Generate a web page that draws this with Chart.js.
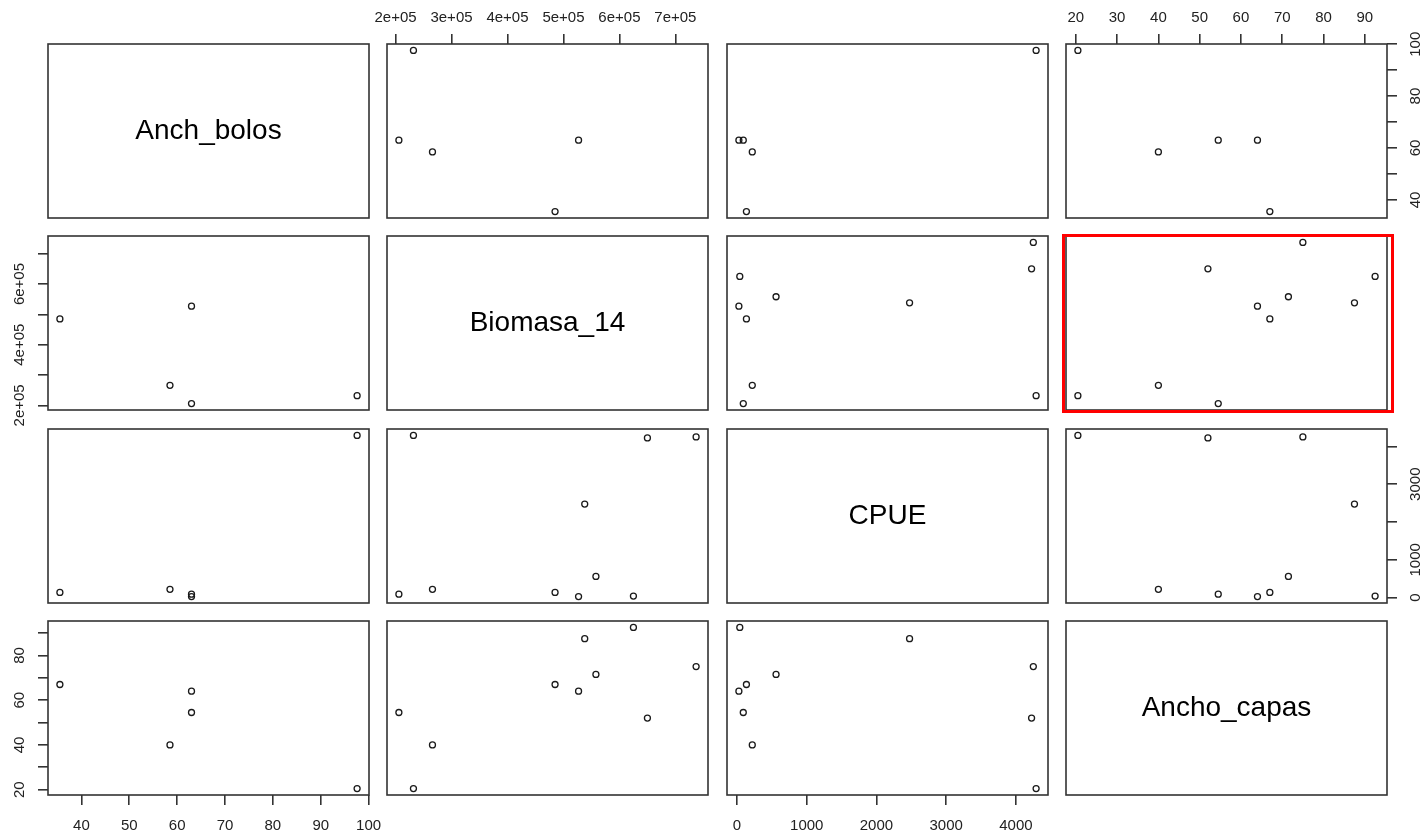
<!DOCTYPE html>
<html>
<head>
<meta charset="utf-8">
<title>Matriz de dispersión</title>
<script src="https://cdn.jsdelivr.net/npm/chart.js@4.4.1/dist/chart.umd.min.js"></script>
<style>
  html, body { margin: 0; padding: 0; background: #ffffff; }
  body { position: relative; width: 1426px; height: 837px; overflow: hidden; }
  canvas { position: absolute; }
  #resaltado {
    position: absolute; left: 1062px; top: 234px; width: 332px; height: 179px;
    border: 3px solid #ff0000; box-sizing: border-box; pointer-events: none;
  }
</style>
</head>
<body>
<div id="resaltado"></div>
<script>
// Variables of the matrix, one observation per index (null = missing)
const variables   = ['Anch_bolos', 'Biomasa_14', 'CPUE', 'Ancho_capas'];
const anchBolos   = [97.6, 58.5, null, 63, 63, 35.5, null, null, null, null];
const biomasa14   = [232000, 266000, 650000, 206000, 527000, 485000, 558000, 737000, 538000, 625000];
const cpue        = [4290, 219, 4225, 90, 27, 135, 560, 4250, 2475, 40];
const anchoCapas  = [20.5, 40, 52, 54.5, 64, 67, 71.5, 75, 87.5, 92.5];

// Tick positions of each variable
const anchTicks   = [40, 50, 60, 70, 80, 90, 100];
const bioTicks    = [200000, 300000, 400000, 500000, 600000, 700000];
const cpueTicks   = [0, 1000, 2000, 3000, 4000];
const capasTicks  = [20, 30, 40, 50, 60, 70, 80, 90];

// Tick labels: horizontal axes (x) and vertical axes (y, where overlapping labels are dropped)
const anchXLabels  = ['40', '50', '60', '70', '80', '90', '100'];
const anchYLabels  = ['40', '', '60', '', '80', '', '100'];
const bioXLabels   = ['2e+05', '3e+05', '4e+05', '5e+05', '6e+05', '7e+05'];
const bioYLabels   = ['2e+05', '', '4e+05', '', '6e+05', ''];
const cpueXLabels  = ['0', '1000', '2000', '3000', '4000'];
const cpueYLabels  = ['0', '1000', '', '3000', ''];
const capasXLabels = ['20', '30', '40', '50', '60', '70', '80', '90'];
const capasYLabels = ['20', '', '40', '', '60', '', '80', ''];

const series = [
  { values: anchBolos,  ticks: anchTicks,  xLabels: anchXLabels,  yLabels: anchYLabels },
  { values: biomasa14,  ticks: bioTicks,   xLabels: bioXLabels,   yLabels: bioYLabels },
  { values: cpue,       ticks: cpueTicks,  xLabels: cpueXLabels,  yLabels: cpueYLabels },
  { values: anchoCapas, ticks: capasTicks, xLabels: capasXLabels, yLabels: capasYLabels }
];

// Panel grid geometry (plot regions)
const colLeft = [48, 387, 727, 1066];
const rowTop  = [44, 236, 429, 621];
const panelW  = 321;
const panelH  = 174;
const M = 46;                       // margin around each panel for axes
const FONT = '"Liberation Sans", Arial, Helvetica, sans-serif';
const INK = '#333333';

// Axis range extended by 4% on each side
function extent(vals) {
  const v = vals.filter(d => d !== null);
  const lo = Math.min(...v), hi = Math.max(...v), r = hi - lo;
  return [lo - 0.04 * r, hi + 0.04 * r];
}

// Frame, variable names on the diagonal and rotated y tick labels
const panelDecor = {
  id: 'panelDecor',
  afterDraw(chart, args, opts) {
    const { ctx, chartArea: a } = chart;
    ctx.save();
    ctx.strokeStyle = INK;
    ctx.lineWidth = 1.6;
    ctx.strokeRect(a.left, a.top, a.right - a.left, a.bottom - a.top);
    if (opts.title) {
      ctx.fillStyle = '#000000';
      ctx.font = '28px ' + FONT;
      ctx.textAlign = 'center';
      ctx.textBaseline = 'middle';
      ctx.fillText(opts.title, (a.left + a.right) / 2, (a.top + a.bottom) / 2);
    }
    if (opts.ySide) {
      const s = chart.scales.y;
      ctx.fillStyle = '#222222';
      ctx.font = '15px ' + FONT;
      ctx.textAlign = 'center';
      ctx.textBaseline = 'middle';
      const x = opts.ySide === 'left' ? a.left - 28 : a.right + 29;
      s.ticks.forEach((t, k) => {
        const lab = opts.yLabels[k];
        if (!lab) return;
        const y = s.getPixelForValue(t.value);
        ctx.save();
        ctx.translate(x, y);
        ctx.rotate(-Math.PI / 2);
        ctx.fillText(lab, 0, 0);
        ctx.restore();
      });
    }
    ctx.restore();
  }
};

function makePanel(i, j) {
  const xs = series[j], ys = series[i];
  const canvas = document.createElement('canvas');
  const w = panelW + 2 * M, h = panelH + 2 * M;
  canvas.width = w; canvas.height = h;
  canvas.style.left = (colLeft[j] - M) + 'px';
  canvas.style.top = (rowTop[i] - M) + 'px';
  canvas.style.width = w + 'px';
  canvas.style.height = h + 'px';
  document.body.appendChild(canvas);

  const xTop = i === 0 && j % 2 === 1;
  const xBottom = i === 3 && j % 2 === 0;
  const yLeft = j === 0 && i % 2 === 1;
  const yRight = j === 3 && i % 2 === 0;
  const xShown = xTop || xBottom;
  const yShown = yLeft || yRight;
  const [xMin, xMax] = extent(xs.values);
  const [yMin, yMax] = extent(ys.values);

  const points = i === j ? [] : xs.values
    .map((x, k) => ({ x: x, y: ys.values[k] }))
    .filter(p => p.x !== null && p.y !== null);

  const tickGrid = { display: true, drawOnChartArea: false, drawTicks: true, tickLength: 10,
                     color: INK, lineWidth: 1.6 };

  new Chart(canvas, {
    type: 'scatter',
    data: {
      datasets: [{
        data: points,
        pointStyle: 'circle',
        pointRadius: 3,
        pointHoverRadius: 3,
        pointBorderWidth: 1.3,
        borderColor: '#1a1a1a',
        backgroundColor: 'rgba(0,0,0,0)',
        clip: false
      }]
    },
    options: {
      responsive: false,
      devicePixelRatio: 1,
      animation: false,
      events: [],
      layout: {
        padding: {
          left: yLeft ? 0 : M,
          right: yRight ? 0 : M,
          top: xTop ? 0 : M,
          bottom: xBottom ? 0 : M
        }
      },
      plugins: {
        legend: { display: false },
        tooltip: { enabled: false },
        panelDecor: {
          title: i === j ? variables[i] : null,
          ySide: yLeft ? 'left' : (yRight ? 'right' : null),
          yLabels: ys.yLabels
        }
      },
      scales: {
        x: {
          type: 'linear',
          display: xShown,
          position: xTop ? 'top' : 'bottom',
          min: xMin, max: xMax,
          afterBuildTicks: s => { s.ticks = xs.ticks.map(v => ({ value: v })); },
          afterFit: s => { s.height = xShown ? M : 0; },
          grid: tickGrid,
          border: { display: false },
          ticks: {
            autoSkip: false, maxRotation: 0, minRotation: 0,
            padding: xTop ? 7 : 12,
            color: '#222222',
            font: { family: FONT, size: 15 },
            callback: (v, k) => xs.xLabels[k]
          }
        },
        y: {
          type: 'linear',
          display: yShown,
          position: yLeft ? 'left' : 'right',
          min: yMin, max: yMax,
          afterBuildTicks: s => { s.ticks = ys.ticks.map(v => ({ value: v })); },
          afterFit: s => { s.width = yShown ? M : 0; },
          grid: tickGrid,
          border: { display: false },
          ticks: { display: false }
        }
      }
    },
    plugins: [panelDecor]
  });
}

for (let i = 0; i < 4; i++) {
  for (let j = 0; j < 4; j++) {
    makePanel(i, j);
  }
}
// keep the highlight above the canvases
document.body.appendChild(document.getElementById('resaltado'));
</script>
</body>
</html>
